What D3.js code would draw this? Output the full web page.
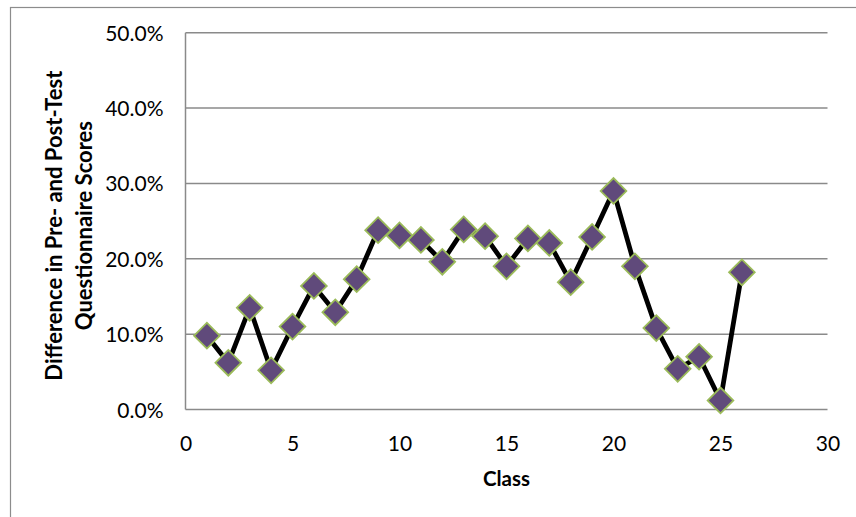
<!DOCTYPE html>
<html>
<head>
<meta charset="utf-8">
<script src="https://cdn.jsdelivr.net/npm/d3@7"></script>
<style>
  html, body { margin: 0; padding: 0; background: #fff; }
  svg { display: block; }
  text { font-family: Lato, "Liberation Sans", sans-serif; fill: #000; }
</style>
</head>
<body>
<svg id="chart" width="856" height="517"></svg>
<script>
// Class numbers and the change between pre- and post-test scores (fraction)
const classes = [1, 2, 3, 4, 5, 6, 7, 8, 9, 10, 11, 12, 13, 14, 15, 16, 17, 18, 19, 20, 21, 22, 23, 24, 25, 26];
const scoreDiff = [0.098, 0.062, 0.135, 0.052, 0.110, 0.164, 0.129, 0.173, 0.238, 0.231, 0.225, 0.196, 0.239, 0.230,
                   0.190, 0.227, 0.221, 0.169, 0.229, 0.290, 0.190, 0.108, 0.054, 0.070, 0.012, 0.182];
const xTicks = [0, 5, 10, 15, 20, 25, 30];
const yTicks = [0, 0.1, 0.2, 0.3, 0.4, 0.5];
const xTitle = "Class";
const yTitleLines = ["Difference in Pre- and Post-Test", "Questionnaire Scores"];

const svg = d3.select("#chart");
const W = 856, H = 517;

// outer chart frame (runs off the right and bottom edges)
svg.append("rect")
  .attr("x", 10.5).attr("y", 7.5)
  .attr("width", W + 20).attr("height", H + 20)
  .attr("fill", "#fff").attr("stroke", "#8c8c8c").attr("stroke-width", 1.2);

const plot = { left: 185.5, right: 827.5, top: 32.7, bottom: 409.5 };

const x = d3.scaleLinear().domain([0, 30]).range([plot.left, plot.right]);
const y = d3.scaleLinear().domain([0, 0.5]).range([plot.bottom, plot.top]);

// horizontal gridlines
svg.append("g")
  .selectAll("line")
  .data(yTicks)
  .join("line")
  .attr("x1", plot.left).attr("x2", plot.right)
  .attr("y1", d => y(d)).attr("y2", d => y(d))
  .attr("stroke", "#8a8a8a").attr("stroke-width", 1.5);

// y axis line
svg.append("line")
  .attr("x1", plot.left).attr("x2", plot.left)
  .attr("y1", plot.top).attr("y2", plot.bottom)
  .attr("stroke", "#8a8a8a").attr("stroke-width", 1.5);

// y axis labels
const fmtPct = d3.format(".1%");
const yAxis = d3.axisLeft(y).tickValues(yTicks).tickFormat(fmtPct).tickSize(0).tickPadding(22);
const gy = svg.append("g").attr("transform", `translate(${plot.left},0)`).call(yAxis);
gy.attr("font-size", null).attr("font-family", null);
gy.select(".domain").remove();
gy.selectAll("text").attr("font-size", 21).attr("dy", "0.36em");

// x axis labels
const xAxis = d3.axisBottom(x).tickValues(xTicks).tickFormat(d3.format("d")).tickSize(0).tickPadding(0);
const gx = svg.append("g").attr("transform", `translate(0,${plot.bottom})`).call(xAxis);
gx.attr("font-size", null).attr("font-family", null);
gx.select(".domain").remove();
gx.selectAll("text").attr("font-size", 21).attr("dy", null).attr("y", 41);

// axis titles
svg.append("text")
  .attr("x", x(15)).attr("y", 486)
  .attr("text-anchor", "middle")
  .attr("font-size", 20.5).attr("font-weight", "bold")
  .text(xTitle);

const yTitle = svg.append("text")
  .attr("transform", `translate(0,${(plot.top + plot.bottom) / 2 + 4.5}) rotate(-90)`)
  .attr("text-anchor", "middle")
  .attr("font-size", 22).attr("font-weight", "bold");
yTitleLines.forEach((line, i) => {
  yTitle.append("tspan").attr("x", 0).attr("y", 62 + i * 30).text(line);
});

// series line
const pts = classes.map((c, i) => [c, scoreDiff[i]]);
svg.append("path")
  .datum(pts)
  .attr("fill", "none")
  .attr("stroke", "#000")
  .attr("stroke-width", 4.8)
  .attr("stroke-linejoin", "round")
  .attr("d", d3.line().x(d => x(d[0])).y(d => y(d[1])));

// diamond markers
const diamond = d3.symbol().type(d3.symbolSquare).size(330);
svg.append("g")
  .selectAll("path")
  .data(pts)
  .join("path")
  .attr("d", diamond)
  .attr("transform", d => `translate(${x(d[0])},${y(d[1])}) rotate(45)`)
  .attr("fill", "#604a7b")
  .attr("stroke", "#9bbb59")
  .attr("stroke-width", 1.8);
</script>
</body>
</html>
